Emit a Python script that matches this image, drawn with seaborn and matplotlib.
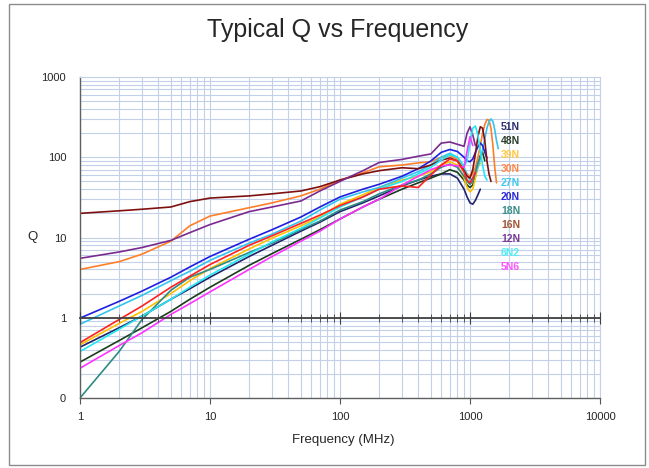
import numpy as np
import pandas as pd
import matplotlib
matplotlib.use('Agg')
import matplotlib.pyplot as plt
import seaborn as sns
from matplotlib.ticker import FixedLocator, FixedFormatter, NullFormatter, LogLocator
from matplotlib.patches import Rectangle

sns.set_style('white')
plt.rcParams['font.family'] = ['Liberation Sans', 'DejaVu Sans']

nan = np.nan

# frequency points (MHz)
freq = [1, 2, 3, 5, 7, 10, 20, 30, 50, 70, 100, 150, 200, 300, 400, 500,
        600, 700, 800, 900, 950, 1000, 1050, 1100, 1150, 1200, 1250, 1300,
        1350, 1400, 1450, 1500, 1550, 1600, 1650]

# Q values, one list per part
q_51n = [0.43, 0.75, 1.05, 1.7, 2.3, 3.2, 5.8, 8, 12, 15.5, 21, 27, 33, 44, 52, 58,
         62, 62, 55, 40, 32, 27, 26, 29, 34, 40, nan, nan,
         nan, nan, nan, nan, nan, nan, nan]
q_48n = [0.28, 0.52, 0.75, 1.2, 1.7, 2.4, 4.5, 6.3, 9.5, 12.5, 17, 24, 30, 40, 48, 55,
         62, 70, 65, 52, 45, 42, 45, 58, 80, 105, 115, 90,
         nan, nan, nan, nan, nan, nan, nan]
q_39n = [0.46, 0.85, 1.2, 2.0, 2.9, 4.1, 7.2, 9.8, 14, 18, 26, 34, 42, 52, 58, 66,
         80, 88, 80, 55, 42, 37, 40, 55, 75, 85, nan, nan,
         nan, nan, nan, nan, nan, nan, nan]
q_30n = [4.0, 5.0, 6.2, 9.0, 14, 18.5, 23.5, 27, 33, 40, 52, 64, 76, 80, 85, 88,
         100, 105, 95, 72, 62, 58, 62, 75, 100, 140, 200, 255,
         295, 290, 230, 140, 75, 48, nan]
q_27n = [0.83, 1.4, 1.9, 2.9, 3.8, 5.2, 8.5, 11, 16, 22, 30, 37, 42, 55, 66, 80,
         100, 112, 100, 75, 60, 52, 55, 62, 75, 95, 125, 170,
         230, 280, 300, 280, 220, 160, 128]
q_20n = [0.99, 1.6, 2.15, 3.2, 4.3, 5.8, 9.5, 12.5, 18, 24, 32, 40, 46, 58, 72, 90,
         115, 125, 118, 100, 90, 88, 95, 115, 135, 150, 140, 115,
         98, nan, nan, nan, nan, nan, nan]
q_18n = [0.1, 0.38, 0.95, 2.2, 3.2, 4.0, 6.5, 8.5, 12.5, 16, 22, 28, 35, 45, 52, 62,
         75, 82, 75, 58, 50, 46, 50, 65, 85, 100, nan, nan,
         nan, nan, nan, nan, nan, nan, nan]
q_16n = [20, 21.5, 22.5, 24, 28, 31, 33, 35, 38, 43, 52, 62, 68, 74, 72, 80,
         92, 98, 90, 68, 58, 55, 70, 110, 180, 240, 230, 160,
         90, 62, 50, nan, nan, nan, nan]
q_12n = [5.5, 6.6, 7.5, 9.2, 11.5, 14.5, 21, 24, 28.5, 38, 50, 68, 86, 94, 103, 110,
         150, 155, 145, 137, 200, 240, 190, 140, nan, nan, nan, nan,
         nan, nan, nan, nan, nan, nan, nan]
q_6n2 = [0.38, 0.72, 1.05, 1.7, 2.4, 3.4, 6.2, 8.8, 13, 17.5, 24, 32, 40, 50, 62, 75,
         92, 108, 100, 78, 90, 150, 230, 245, 190, 120, 80, 58,
         52, nan, nan, nan, nan, nan, nan]
q_5n6 = [0.235, 0.45, 0.65, 1.1, 1.5, 2.1, 4.0, 5.8, 9, 12, 17, 24, 30, 45, 58, 70,
         78, 80, 78, 75, 120, 180, 140, nan, nan, nan, nan, nan,
         nan, nan, nan, nan, nan, nan, nan]
q_red = [0.49, 0.95, 1.4, 2.4, 3.3, 4.6, 8, 10.5, 15, 19, 25, 32, 40, 44, 42, 60,
         80, 95, 90, 65, 52, 48, 55, 65, nan, nan, nan, nan,
         nan, nan, nan, nan, nan, nan, nan]

names = ['51N', '48N', '39N', '30N', '27N', '20N', '18N', '16N', '12N', '6N2', '5N6', 'extra']
values = [q_51n, q_48n, q_39n, q_30n, q_27n, q_20n, q_18n, q_16n, q_12n, q_6n2, q_5n6, q_red]
colors = ['#23236B', '#1C3D1C', '#FFC000', '#FF7F27', '#33C4F0', '#1F1FE0',
          '#2E8B84', '#7F1010', '#7A2A8E', '#22E8F2', '#FF33FF', '#FF2020']
label_colors = ['#2E2E6E', '#2A3F2A', '#FFC845', '#FF8A4A', '#3FC8F0', '#2A2AD8',
                '#3A8F88', '#A35535', '#7E3A94', '#50EEF2', '#FF55FF']

x_ticks = [1, 10, 100, 1000, 10000]
x_tick_labels = ['1', '10', '100', '1000', '10000']
y_ticks = [0.1, 1, 10, 100, 1000]
y_tick_labels = ['0', '1', '10', '100', '1000']

rows = []
for n, v in zip(names, values):
    for f, q in zip(freq, v):
        rows.append({'freq': f, 'q': q, 'series': n})
df = pd.DataFrame(rows).dropna()

fig = plt.figure(figsize=(6.49, 4.68), dpi=100)
ax = fig.add_axes([80/649, 1-398/468, 520/649, 321/468])
ax.set_xscale('log')
ax.set_yscale('log')

grid_c = '#C3D0E8'
ax.grid(True, which='both', color=grid_c, lw=0.8)
ax.set_axisbelow(True)

sns.lineplot(data=df, x='freq', y='q', hue='series', hue_order=names,
             palette=dict(zip(names, colors)), estimator=None, sort=False,
             legend=False, lw=1.2, ax=ax)

ax.set_xlim(1, 10000)
ax.set_ylim(0.1, 1000)
ax.xaxis.set_major_locator(FixedLocator(x_ticks))
ax.xaxis.set_major_formatter(FixedFormatter(x_tick_labels))
ax.xaxis.set_minor_locator(LogLocator(base=10, subs=np.arange(2, 10)))
ax.xaxis.set_minor_formatter(NullFormatter())
ax.yaxis.set_major_locator(FixedLocator(y_ticks))
ax.yaxis.set_major_formatter(FixedFormatter(y_tick_labels))
ax.yaxis.set_minor_locator(LogLocator(base=10, subs=np.arange(2, 10)))
ax.yaxis.set_minor_formatter(NullFormatter())
ax.set_xlabel('')
ax.set_ylabel('')
ax.tick_params(axis='both', which='major', labelsize=8, length=4, color='#555555', pad=6)
ax.tick_params(axis='both', which='minor', length=0)
for s in ['left', 'bottom']:
    ax.spines[s].set_color('#606060')
    ax.spines[s].set_linewidth(1.0)
for s in ['top', 'right']:
    ax.spines[s].set_color(grid_c)

# axis line crossing at Q = 1
ax2 = ax.twiny()
ax2.set_xscale('log')
ax2.set_xlim(1, 10000)
ax2.grid(False)
for s in ['top', 'right', 'left']:
    ax2.spines[s].set_visible(False)
ax2.spines['bottom'].set_position(('data', 1))
ax2.spines['bottom'].set_color('#404040')
ax2.spines['bottom'].set_linewidth(1.3)
ax2.xaxis.set_ticks_position('bottom')
ax2.xaxis.set_major_locator(FixedLocator(x_ticks))
ax2.xaxis.set_minor_locator(LogLocator(base=10, subs=np.arange(2, 10)))
ax2.xaxis.set_minor_formatter(NullFormatter())
ax2.tick_params(which='major', direction='inout', length=9, color='#404040', labelbottom=False, labeltop=False)
ax2.tick_params(which='minor', direction='inout', length=6, color='#404040')

# part labels on the right
for i, (n, c) in enumerate(zip(names[:-1], label_colors)):
    fig.text(501/649, 1-(127 + 14*i)/468, n, color=c, fontsize=7.5,
             fontweight='bold', ha='left', va='center')

fig.text(338/649, 1-30/468, 'Typical Q vs Frequency', ha='center', va='center', fontsize=18)
fig.text(33/649, 1-237/468, 'Q', ha='center', va='center', fontsize=9.5)
fig.text(343/649, 1-440/468, 'Frequency (MHz)', ha='center', va='center', fontsize=9.5)

fig.patches.append(Rectangle((9/649, 3/468), 636/649, 461/468, transform=fig.transFigure,
                             fill=False, ec='#8C8C8C', lw=1.0))

fig.savefig('out.png', dpi=100)
